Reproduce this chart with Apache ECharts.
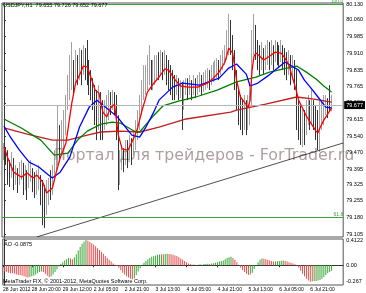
<!DOCTYPE html>
<html><head><meta charset="utf-8">
<script src="https://cdn.jsdelivr.net/npm/echarts@6/dist/echarts.min.js"></script>
<style>html,body{margin:0;padding:0;background:#fff}#c{width:366px;height:293px}</style>
</head><body><div id="c"></div>
<script>
const symbol = 'USDJPY,H1';
const timeTickBars = [-0.9,14,30,46,62,78,94,110,126,142,158];
const timeTickLabels = ['28 Jun 2012','28 Jun 20:00','29 Jun 12:00','2 Jul 05:00','2 Jul 21:00','3 Jul 13:00','4 Jul 05:00','4 Jul 21:00','5 Jul 13:00','6 Jul 05:00','6 Jul 21:00'];
const priceTicks = [80.130,80.060,79.985,79.910,79.835,79.765,79.690,79.615,79.540,79.470,79.395,79.325,79.255,79.180,79.105];
const aoTicks = [0.4122,0,-0.267];
const aoTickLabels = ['0.4122','0.00','-0.267'];

const opens = [79.470,79.479,79.444,79.413,79.390,79.435,79.368,79.381,79.346,79.390,
79.399,79.355,79.377,79.337,79.368,79.390,79.355,79.324,79.346,79.355,
79.301,79.279,79.257,79.292,79.324,79.310,79.368,79.435,79.479,79.569,
79.502,79.524,79.591,79.680,79.747,79.814,79.836,79.791,79.858,79.836,
79.881,79.858,79.903,79.858,79.836,79.791,79.769,79.725,79.702,79.658,
79.725,79.658,79.613,79.635,79.658,79.702,79.695,79.725,79.702,79.613,
79.324,79.413,79.457,79.435,79.479,79.457,79.502,79.479,79.524,79.569,
79.591,79.680,79.725,79.769,79.791,79.814,79.836,79.791,79.814,79.836,
79.858,79.836,79.881,79.858,79.881,79.836,79.814,79.791,79.769,79.747,
79.769,79.747,79.756,79.725,79.747,79.769,79.756,79.769,79.747,79.769,
79.756,79.769,79.791,79.769,79.783,79.791,79.800,79.791,79.814,79.827,
79.836,79.845,79.836,79.872,79.881,79.903,79.947,79.992,79.970,79.903,
79.814,79.725,79.680,79.658,79.635,79.680,79.635,79.658,79.702,79.925,
80.014,79.947,79.903,79.881,79.903,79.881,79.903,79.925,79.903,79.925,
79.903,79.925,79.916,79.903,79.925,79.889,79.881,79.858,79.881,79.836,
79.858,79.814,79.658,79.613,79.569,79.613,79.569,79.635,79.658,79.613,
79.680,79.635,79.591,79.524,79.569,79.635,79.658,79.680,79.658,79.655];
const highs = [79.511,79.493,79.479,79.435,79.471,79.444,79.413,79.399,79.426,79.435,
79.422,79.413,79.390,79.422,79.435,79.399,79.381,79.390,79.413,79.368,
79.346,79.324,79.346,79.355,79.390,79.413,79.479,79.524,79.680,79.591,
79.613,79.658,79.725,79.814,79.903,79.961,79.881,79.925,79.903,79.934,
79.925,79.947,79.934,79.970,79.881,79.836,79.800,79.769,79.747,79.769,
79.738,79.702,79.702,79.725,79.747,79.738,79.747,79.738,79.725,79.635,
79.479,79.502,79.488,79.524,79.524,79.546,79.533,79.569,79.613,79.658,
79.725,79.791,79.858,79.858,79.903,79.947,79.881,79.881,79.903,79.903,
79.916,79.925,79.916,79.925,79.903,79.881,79.858,79.836,79.814,79.814,
79.800,79.791,79.783,79.791,79.800,79.800,79.814,79.791,79.814,79.800,
79.814,79.827,79.814,79.827,79.836,79.845,79.836,79.858,79.872,79.881,
79.889,79.881,79.903,79.925,79.947,80.014,80.086,80.059,79.992,79.925,
79.836,79.747,79.725,79.702,79.725,79.702,79.725,79.769,80.014,80.086,
80.037,79.970,79.947,79.961,79.934,79.947,79.970,79.961,79.970,79.947,
79.970,79.961,79.947,79.970,79.947,79.934,79.916,79.925,79.903,79.903,
79.881,79.836,79.702,79.680,79.667,79.658,79.702,79.725,79.702,79.747,
79.702,79.680,79.658,79.702,79.702,79.725,79.725,79.711,79.769,79.726];
const lows = [79.435,79.413,79.324,79.315,79.355,79.301,79.324,79.288,79.324,79.346,
79.279,79.301,79.257,79.310,79.337,79.292,79.266,79.279,79.301,79.234,
79.145,79.132,79.190,79.234,79.257,79.279,79.337,79.390,79.413,79.435,
79.457,79.479,79.546,79.658,79.702,79.747,79.725,79.769,79.769,79.791,
79.769,79.814,79.791,79.769,79.725,79.702,79.658,79.591,79.524,79.569,
79.524,79.524,79.569,79.591,79.613,79.635,79.658,79.635,79.524,79.301,
79.324,79.390,79.381,79.413,79.399,79.435,79.413,79.457,79.479,79.524,
79.569,79.635,79.702,79.725,79.747,79.769,79.747,79.747,79.769,79.791,
79.791,79.814,79.791,79.814,79.769,79.747,79.725,79.702,79.702,79.725,
79.702,79.711,79.569,79.658,79.725,79.702,79.725,79.702,79.725,79.711,
79.725,79.738,79.725,79.738,79.747,79.756,79.747,79.769,79.783,79.791,
79.800,79.791,79.814,79.836,79.858,79.881,79.903,79.903,79.836,79.747,
79.658,79.591,79.569,79.546,79.569,79.546,79.569,79.591,79.680,79.903,
79.881,79.836,79.814,79.836,79.814,79.836,79.858,79.836,79.858,79.836,
79.872,79.858,79.845,79.872,79.836,79.814,79.791,79.814,79.769,79.791,
79.747,79.569,79.524,79.502,79.493,79.502,79.546,79.591,79.569,79.591,
79.569,79.524,79.479,79.471,79.569,79.591,79.635,79.622,79.649,79.652];
const closes = [79.479,79.444,79.413,79.390,79.435,79.368,79.381,79.346,79.390,79.399,
79.355,79.377,79.337,79.368,79.390,79.355,79.324,79.346,79.355,79.301,
79.279,79.257,79.292,79.324,79.310,79.368,79.435,79.479,79.569,79.502,
79.524,79.591,79.680,79.747,79.814,79.836,79.791,79.858,79.836,79.881,
79.858,79.903,79.858,79.836,79.791,79.769,79.725,79.702,79.658,79.725,
79.658,79.613,79.635,79.658,79.702,79.695,79.725,79.702,79.613,79.324,
79.413,79.457,79.435,79.479,79.457,79.502,79.479,79.524,79.569,79.591,
79.680,79.725,79.769,79.791,79.814,79.836,79.791,79.814,79.836,79.858,
79.836,79.881,79.858,79.881,79.836,79.814,79.791,79.769,79.747,79.769,
79.747,79.756,79.725,79.747,79.769,79.756,79.769,79.747,79.769,79.756,
79.769,79.791,79.769,79.783,79.791,79.800,79.791,79.814,79.827,79.836,
79.845,79.836,79.872,79.881,79.903,79.947,79.992,79.970,79.903,79.814,
79.725,79.680,79.658,79.635,79.680,79.635,79.658,79.702,79.925,80.014,
79.947,79.903,79.881,79.903,79.881,79.903,79.925,79.903,79.925,79.903,
79.925,79.916,79.903,79.925,79.889,79.881,79.858,79.881,79.836,79.858,
79.814,79.658,79.613,79.569,79.613,79.569,79.635,79.658,79.613,79.680,
79.635,79.591,79.524,79.569,79.635,79.658,79.680,79.658,79.655,79.677];

const ao = [-0.10,-0.11,-0.12,-0.13,-0.13,-0.14,-0.15,-0.16,-0.16,-0.17,
-0.18,-0.19,-0.20,-0.19,-0.18,-0.17,-0.15,-0.13,-0.11,-0.10,
-0.11,-0.14,-0.17,-0.19,-0.18,-0.15,-0.11,-0.07,-0.02,0.02,
0.05,0.08,0.10,0.12,0.11,0.10,0.13,0.18,0.24,0.30,
0.35,0.39,0.4122,0.40,0.38,0.36,0.34,0.31,0.28,0.25,
0.22,0.19,0.15,0.12,0.09,0.06,0.03,0.01,-0.01,-0.04,
-0.08,-0.12,-0.15,-0.18,-0.20,-0.22,-0.23,-0.21,-0.16,-0.10,
-0.05,0.01,0.04,0.07,0.10,0.12,0.14,0.15,0.16,0.17,
0.175,0.18,0.18,0.185,0.19,0.185,0.18,0.17,0.16,0.15,
0.13,0.11,0.09,0.07,0.05,0.03,0.02,0.01,0.012,0.005,
0.01,0.015,0.01,0.02,0.022,0.025,0.02,0.03,0.035,0.04,
0.05,0.06,0.07,0.08,0.10,0.12,0.13,0.14,0.12,0.09,
0.05,0.01,-0.04,-0.08,-0.11,-0.14,-0.16,-0.15,-0.12,-0.06,
0.00,0.05,0.09,0.11,0.105,0.10,0.09,0.08,0.07,0.06,
0.062,0.065,0.07,0.075,0.08,0.07,0.06,0.05,0.04,0.03,
0.015,0.005,-0.04,-0.09,-0.14,-0.18,-0.22,-0.25,-0.267,-0.26,
-0.262,-0.255,-0.25,-0.24,-0.22,-0.19,-0.16,-0.13,-0.11,-0.0875];

// moving averages: [bar, price]
const maFast = [[0,79.493],[2,79.444],[5,79.381],[9,79.359],[12,79.377],[15,79.355],[17,79.368],[20,79.337],[22,79.288],[25,79.310],[27,79.381],[29,79.444],[32,79.511],[35,79.689],[37,79.778],[39,79.814],[41,79.854],[43,79.850],[45,79.800],[47,79.747],[49,79.734],[51,79.649],[53,79.627],[55,79.667],[57,79.684],[59,79.546],[61,79.484],[64,79.479],[67,79.533],[69,79.578],[71,79.649],[74,79.738],[77,79.774],[80,79.805],[83,79.841],[85,79.836],[88,79.796],[91,79.765],[95,79.760],[100,79.760],[105,79.778],[108,79.800],[111,79.827],[114,79.872],[116,79.934],[118,79.912],[120,79.791],[122,79.716],[124,79.693],[126,79.671],[127,79.702],[128,79.836],[129,79.898],[130,79.912],[132,79.898],[134,79.881],[137,79.898],[140,79.916],[143,79.912],[145,79.889],[147,79.858],[150,79.769],[151,79.738],[152,79.702],[154,79.667],[156,79.631],[159,79.591],[161,79.564],[162,79.555],[163,79.578],[165,79.613],[167,79.640],[169,79.667]];
const maMid = [[0,79.586],[3,79.542],[8,79.479],[13,79.426],[18,79.404],[23,79.368],[25,79.355],[29,79.381],[34,79.448],[39,79.582],[44,79.671],[48,79.702],[51,79.680],[55,79.653],[59,79.622],[66,79.546],[70,79.537],[73,79.578],[77,79.644],[80,79.702],[87,79.760],[92,79.778],[101,79.769],[111,79.800],[116,79.845],[120,79.863],[125,79.818],[127,79.765],[131,79.778],[136,79.809],[145,79.872],[152,79.836],[155,79.791],[158,79.760],[162,79.716],[166,79.671],[169,79.667]];
const maSlow = [[0,79.618],[9,79.578],[19,79.524],[26,79.457],[33,79.466],[38,79.524],[43,79.564],[50,79.595],[56,79.604],[60,79.600],[68,79.560],[70,79.560],[77,79.631],[82,79.676],[90,79.698],[99,79.716],[110,79.747],[120,79.783],[130,79.805],[137,79.827],[146,79.845],[151,79.854],[156,79.827],[161,79.796],[165,79.765],[169,79.738]];
const maLong = [[0,79.578],[12,79.551],[25,79.524],[33,79.524],[43,79.546],[50,79.560],[60,79.564],[70,79.560],[80,79.582],[94,79.618],[117,79.649],[120,79.658],[135,79.684],[151,79.716],[160,79.707],[169,79.693]];
const trendLine = [[16.9,79.092],[175,79.511]];
const fibLevels = [{value:80.126,name:'100.0'},{value:79.178,name:'61.8'}];

const last = closes.length - 1;
const candleData = closes.map((c,i)=>[i, opens[i], c, lows[i], highs[i]]);
const aoData = ao.map((v,i)=>({value:[i,v], itemStyle:{color: (i>0 && v>ao[i-1]) ? '#3aa83a' : '#e85050'}}));

const FONT = '"Liberation Sans", Arial, sans-serif';
const xCommon = {type:'value', min:-1, max:175, splitLine:{show:false}};
const chart = echarts.init(document.getElementById('c'), null, {renderer:'canvas'});
chart.setOption({
  animation:false,
  backgroundColor:'#fff',
  grid:[
    {left:2, top:3, width:344, height:234, show:true, borderColor:'#555', borderWidth:1},
    {left:2, top:239, width:344, height:46, show:true, borderColor:'#555', borderWidth:1}
  ],
  xAxis:[
    Object.assign({gridIndex:0, axisLine:{show:false}, axisTick:{show:false}, axisLabel:{show:false}}, xCommon),
    Object.assign({gridIndex:1, position:'bottom',
      axisLine:{show:true, lineStyle:{color:'#333', width:1}},
      axisTick:{show:true, length:2, customValues:timeTickBars, lineStyle:{color:'#333'}},
      axisLabel:{show:true, customValues:timeTickBars, align:'left', margin:2, fontSize:5, color:'#000', fontFamily:FONT, hideOverlap:false,
        formatter:(v)=>{let k=-1; timeTickBars.forEach((t,j)=>{if(Math.abs(t-v)<1e-6)k=j;}); return k>=0?timeTickLabels[k]:'';}}}, xCommon)
  ],
  yAxis:[
    {gridIndex:0, type:'value', position:'right', min:79.092, max:80.135, splitLine:{show:false},
      axisLine:{show:true, lineStyle:{color:'#333'}},
      axisTick:{show:true, length:2, customValues:priceTicks, lineStyle:{color:'#333'}},
      axisLabel:{customValues:priceTicks, margin:3, fontSize:5.5, color:'#000', fontFamily:FONT, formatter:(v)=>v.toFixed(3)}},
    {gridIndex:1, type:'value', position:'right', min:-0.322, max:0.429, splitLine:{show:false},
      axisLine:{show:true, lineStyle:{color:'#333'}},
      axisTick:{show:true, length:2, customValues:aoTicks, lineStyle:{color:'#333'}},
      axisLabel:{customValues:aoTicks, margin:3, fontSize:5.5, color:'#000', fontFamily:FONT,
        formatter:(v)=>{let k=-1; aoTicks.forEach((t,j)=>{if(Math.abs(t-v)<1e-6)k=j;}); return k>=0?aoTickLabels[k]:'';}}}
  ],
  graphic:[
    {type:'text', left:54, top:148, z:0, silent:true,
      style:{text:'Портал для трейдеров - ForTrader.ru', font:'15.8px "DejaVu Sans"', fill:'rgba(150,125,125,0.75)'}},
    {type:'text', left:3, top:2, z:100, style:{text:symbol+'  '+opens[last].toFixed(3)+' '+highs[last].toFixed(3)+' '+lows[last].toFixed(3)+' '+closes[last].toFixed(3), font:'5.5px '+FONT, fill:'#000'}},
    {type:'text', left:4, top:241, z:100, style:{text:'AO '+ao[last].toFixed(4), font:'5.5px '+FONT, fill:'#000'}},
    {type:'text', left:3, top:278, z:100, style:{text:'MetaTrader FIX, \u00A9 2001-2012, MetaQuotes Software Corp.', font:'5.5px '+FONT, fill:'#000'}}
  ],
  series:[
    {type:'candlestick', xAxisIndex:0, yAxisIndex:0, data:candleData, encode:{x:0, y:[1,2,3,4]}, barWidth:1.2,
      itemStyle:{color:'#b8b8b8', borderColor:'#8a8a8a', color0:'#000', borderColor0:'#000', borderWidth:0.8},
      markLine:{symbol:'none', silent:true, animation:false,
        data:[
          {yAxis:closes[last], lineStyle:{color:'#b5b5b5', type:'solid', width:1},
            label:{show:true, position:'end', distance:1, formatter:()=>closes[last].toFixed(3), backgroundColor:'#000', color:'#fff', fontSize:5.5, fontFamily:FONT, padding:[1,2]}}
        ].concat(fibLevels.map(f=>({yAxis:f.value, lineStyle:{color:'#40a040', type:'solid', width:1},
            label:{show:true, position:'insideEndTop', distance:0, formatter:()=>f.name, color:'#40a040', fontSize:5, fontFamily:FONT}})))
      }},
    {type:'line', xAxisIndex:0, yAxisIndex:0, data:trendLine, showSymbol:false, lineStyle:{color:'#222', width:0.8}, z:3},
    {type:'line', xAxisIndex:0, yAxisIndex:0, data:maLong, showSymbol:false, lineStyle:{color:'#c02020', width:1.3}, z:4},
    {type:'line', xAxisIndex:0, yAxisIndex:0, data:maSlow, showSymbol:false, lineStyle:{color:'#008000', width:1.3}, z:4},
    {type:'line', xAxisIndex:0, yAxisIndex:0, data:maMid, showSymbol:false, lineStyle:{color:'#0000ff', width:1.3}, z:4},
    {type:'line', xAxisIndex:0, yAxisIndex:0, data:maFast, showSymbol:false, lineStyle:{color:'#ff0000', width:1.3}, z:5},
    {type:'bar', xAxisIndex:1, yAxisIndex:1, data:aoData, barWidth:1}
  ]
});
</script></body></html>
